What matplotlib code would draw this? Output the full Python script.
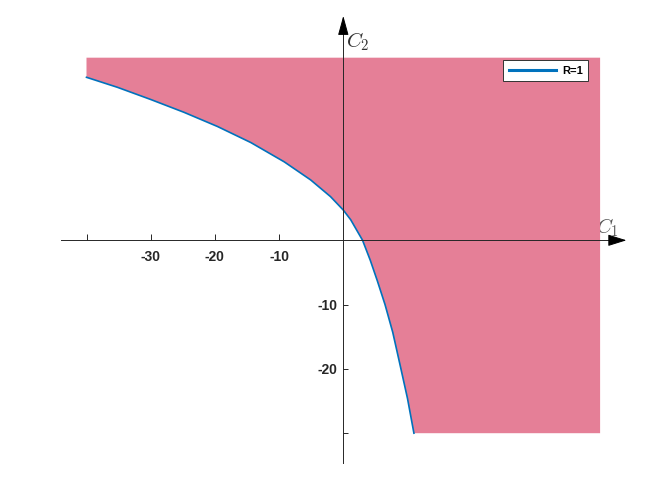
import matplotlib
matplotlib.use("Agg")
import matplotlib.pyplot as plt
import numpy as np

# ---- data ----
curve_c1 = [-40, -35.2, -30, -24.8, -19.6, -14.4, -9.2, -5.1, -2, 0, 1.15,
            3, 4.2, 5.3, 6.5, 7.7, 8.8, 10, 11]
curve_c2 = [25.35, 23.8, 21.9, 19.9, 17.7, 15.2, 12.2, 9.4, 6.8, 4.7, 3.2,
            0, -3.1, -6.3, -10.0, -14.3, -19.2, -24.6, -30]
region_top = 28.4
region_right = 40
region_bottom = -30
xticks = [-40, -30, -20, -10]
xticklabels = ['', '-30', '-20', '-10']
yticks = [-30, -20, -10]
yticklabels = ['', '-20', '-10']
legend_label = 'R=1'

plt.rcParams['mathtext.fontset'] = 'cm'

W, H = 664, 498
fig = plt.figure(figsize=(W / 100, H / 100), dpi=100)
# data -> pixel mapping: px = 343.3 + 6.42*x ; py = 240.3 - 6.43*y
sx, sy = 6.42, 6.43
x0, x1 = -45, 46
y0, y1 = -36, 36
left = (343.3 + x0 * sx) / W
bottom = (H - (240.3 - y0 * sy)) / H
ax = fig.add_axes([left, bottom, (x1 - x0) * sx / W, (y1 - y0) * sy / H])
ax.set_xlim(x0, x1)
ax.set_ylim(y0, y1)
ax.patch.set_visible(False)

fill_color = '#E57F97'
line_color = '#0072BD'
axis_color = '#262626'

# shaded region
poly_x = [curve_c1[0], region_right, region_right] + curve_c1[::-1]
poly_y = [region_top, region_top, region_bottom] + curve_c2[::-1]
ax.fill(poly_x, poly_y, color=fill_color, lw=0, zorder=1)

ln, = ax.plot(curve_c1, curve_c2, color=line_color, lw=1.2, zorder=2, label=legend_label,
              solid_joinstyle='round')

# axes through origin
for s in ['top', 'right']:
    ax.spines[s].set_visible(False)
ax.spines['left'].set_position(('data', 0))
ax.spines['bottom'].set_position(('data', 0))
ax.spines['bottom'].set_bounds(-44, 43)
ax.spines['left'].set_bounds(-34.7, 34)
for s in ['left', 'bottom']:
    ax.spines[s].set_color(axis_color)
    ax.spines[s].set_linewidth(0.7)
    ax.spines[s].set_zorder(2.5)

ax.set_xticks(xticks)
ax.set_xticklabels(xticklabels)
ax.set_yticks(yticks)
ax.set_yticklabels(yticklabels)
ax.tick_params(axis='x', direction='in', length=4.3, width=0.7, color=axis_color, pad=7)
ax.tick_params(axis='y', direction='in', length=3.8, width=0.7, color=axis_color, pad=4.3)
for lab in ax.get_xticklabels() + ax.get_yticklabels():
    lab.set_fontfamily('Liberation Sans')
    lab.set_fontweight('bold')
    lab.set_fontsize(10)
    lab.set_color('#262626')

# arrow heads
ax.annotate('', xy=(44.1, 0), xytext=(41.5, 0), xycoords='data',
            arrowprops=dict(arrowstyle='-|>,head_length=1.15,head_width=0.36', mutation_scale=10,
                            color='black', lw=0.7, shrinkA=0, shrinkB=0), zorder=3)
ax.annotate('', xy=(0, 34.9), xytext=(0, 32.0), xycoords='data',
            arrowprops=dict(arrowstyle='-|>,head_length=1.2,head_width=0.33', mutation_scale=10,
                            color='black', lw=0.7, shrinkA=0, shrinkB=0), zorder=3)

# axis labels
ax.text(39.3, 2.0, r'$C_1$', fontsize=15, color='#555555', ha='left', va='center', zorder=0.5)
ax.text(0.35, 30.9, r'$C_2$', fontsize=15, color='#333333', ha='left', va='center', zorder=3)

leg = ax.legend(handles=[ln], loc='upper right', bbox_to_anchor=(588.3 / W, 1 - 60 / H),
                bbox_transform=fig.transFigure, borderaxespad=0, fancybox=False,
                framealpha=1, edgecolor='#333333', handlelength=4.3, handletextpad=0.5,
                borderpad=0.5, prop={'family': 'Liberation Sans', 'weight': 'bold', 'size': 8})
leg.get_frame().set_linewidth(0.7)
leg.get_lines()[0].set_linewidth(2.2)

fig.savefig('out.png', dpi=100)
